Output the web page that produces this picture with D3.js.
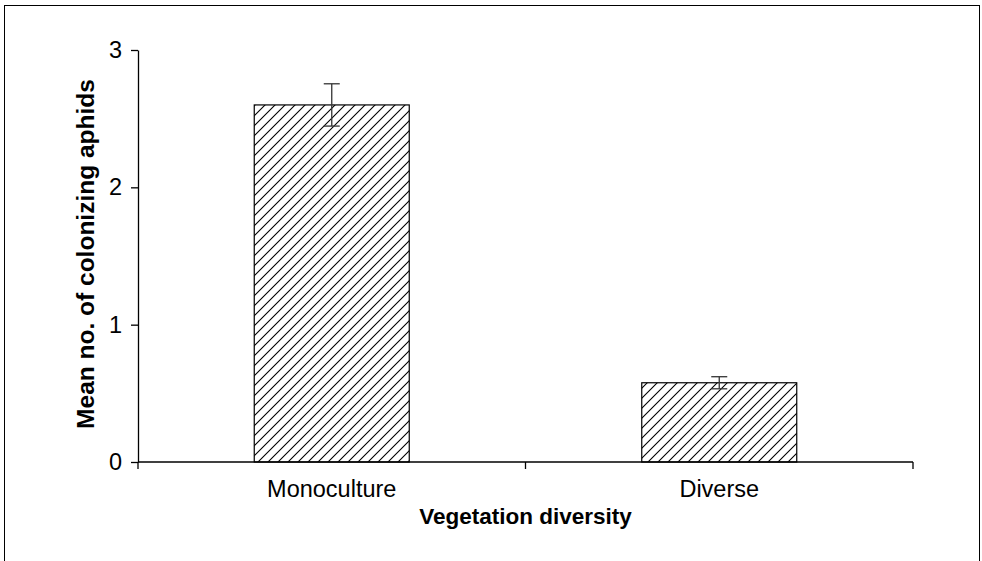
<!DOCTYPE html>
<html>
<head>
<meta charset="utf-8">
<script src="https://cdn.jsdelivr.net/npm/d3@7"></script>
<style>
  body { margin: 0; background: #fff; }
  svg { display: block; font-family: "Liberation Sans", Arial, sans-serif; }
</style>
</head>
<body>
<div id="chart"></div>
<script>
// data
const categories = ["Monoculture", "Diverse"];
const means = [2.60, 0.577];
const errors = [0.154, 0.044];
const yTicks = [0, 1, 2, 3];

const width = 982, height = 561;
const margin = { top: 50, right: 69, bottom: 99, left: 138 };

const svg = d3.select("#chart").append("svg")
    .attr("width", width)
    .attr("height", height);

// diagonal hatch fill
const defs = svg.append("defs");
const pat = defs.append("pattern")
    .attr("id", "hatch")
    .attr("patternUnits", "userSpaceOnUse")
    .attr("width", 10)
    .attr("height", 10);
pat.append("rect").attr("width", 10).attr("height", 10).attr("fill", "#fff");
pat.append("path")
    .attr("d", "M-2.5,2.5 L2.5,-2.5 M0,10 L10,0 M7.5,12.5 L12.5,7.5")
    .attr("stroke", "#000")
    .attr("stroke-width", 1.1);

// outer frame
svg.append("rect")
    .attr("x", 4.5).attr("y", 5.5)
    .attr("width", 975).attr("height", 570)
    .attr("fill", "none")
    .attr("stroke", "#000")
    .attr("stroke-width", 1);

const x = d3.scaleBand()
    .domain(categories)
    .range([margin.left, width - margin.right])
    .padding(0);

const y = d3.scaleLinear()
    .domain([0, 3])
    .range([height - margin.bottom, margin.top]);

const barW = x.bandwidth() * 0.4;

// bars
svg.selectAll("rect.bar")
    .data(categories)
    .join("rect")
    .attr("class", "bar")
    .attr("x", d => x(d) + (x.bandwidth() - barW) / 2)
    .attr("y", (d, i) => y(means[i]))
    .attr("width", barW)
    .attr("height", (d, i) => y(0) - y(means[i]))
    .attr("fill", "url(#hatch)")
    .attr("stroke", "#000")
    .attr("stroke-width", 1.2);

// error bars
const cap = 8;
const eb = svg.append("g").attr("stroke", "#333").attr("stroke-width", 1.3);
categories.forEach((c, i) => {
  const cx = x(c) + x.bandwidth() / 2;
  const hi = y(means[i] + errors[i]), lo = y(means[i] - errors[i]);
  eb.append("line").attr("x1", cx).attr("x2", cx).attr("y1", hi).attr("y2", lo);
  eb.append("line").attr("x1", cx - cap).attr("x2", cx + cap).attr("y1", hi).attr("y2", hi);
  eb.append("line").attr("x1", cx - cap).attr("x2", cx + cap).attr("y1", lo).attr("y2", lo);
});

// y axis
const yAxis = svg.append("g")
    .attr("transform", `translate(${margin.left},0)`)
    .call(d3.axisLeft(y).tickValues(yTicks).tickFormat(d3.format("d"))
      .tickSize(7).tickSizeOuter(0).tickPadding(9));
yAxis.selectAll("text").attr("font-size", 23.5).attr("fill", "#000")
    .attr("font-family", "Liberation Sans, Arial, sans-serif");
yAxis.selectAll("line, path").attr("stroke", "#000").attr("stroke-width", 1.3);

// x axis: line + boundary ticks
const xAxis = svg.append("g").attr("transform", `translate(0,${y(0)})`);
xAxis.append("line")
    .attr("x1", margin.left).attr("x2", width - margin.right)
    .attr("stroke", "#000").attr("stroke-width", 1.3);
const bounds = categories.map(c => x(c)).concat([x(categories[categories.length - 1]) + x.step()]);
xAxis.selectAll("line.tick")
    .data(bounds)
    .join("line")
    .attr("class", "tick")
    .attr("x1", d => d).attr("x2", d => d)
    .attr("y1", 0).attr("y2", 7)
    .attr("stroke", "#000").attr("stroke-width", 1.3);
xAxis.selectAll("text.cat")
    .data(categories)
    .join("text")
    .attr("class", "cat")
    .attr("x", d => x(d) + x.bandwidth() / 2)
    .attr("y", 35)
    .attr("text-anchor", "middle")
    .attr("font-size", 23.5)
    .text(d => d);

// axis titles
svg.append("text")
    .attr("x", (margin.left + width - margin.right) / 2)
    .attr("y", 524)
    .attr("text-anchor", "middle")
    .attr("font-size", 22.5)
    .attr("font-weight", "bold")
    .text("Vegetation diversity");

svg.append("text")
    .attr("transform", `translate(94,254) rotate(-90)`)
    .attr("text-anchor", "middle")
    .attr("font-size", 24.5)
    .attr("font-weight", "bold")
    .text("Mean no. of colonizing aphids");
</script>
</body>
</html>
